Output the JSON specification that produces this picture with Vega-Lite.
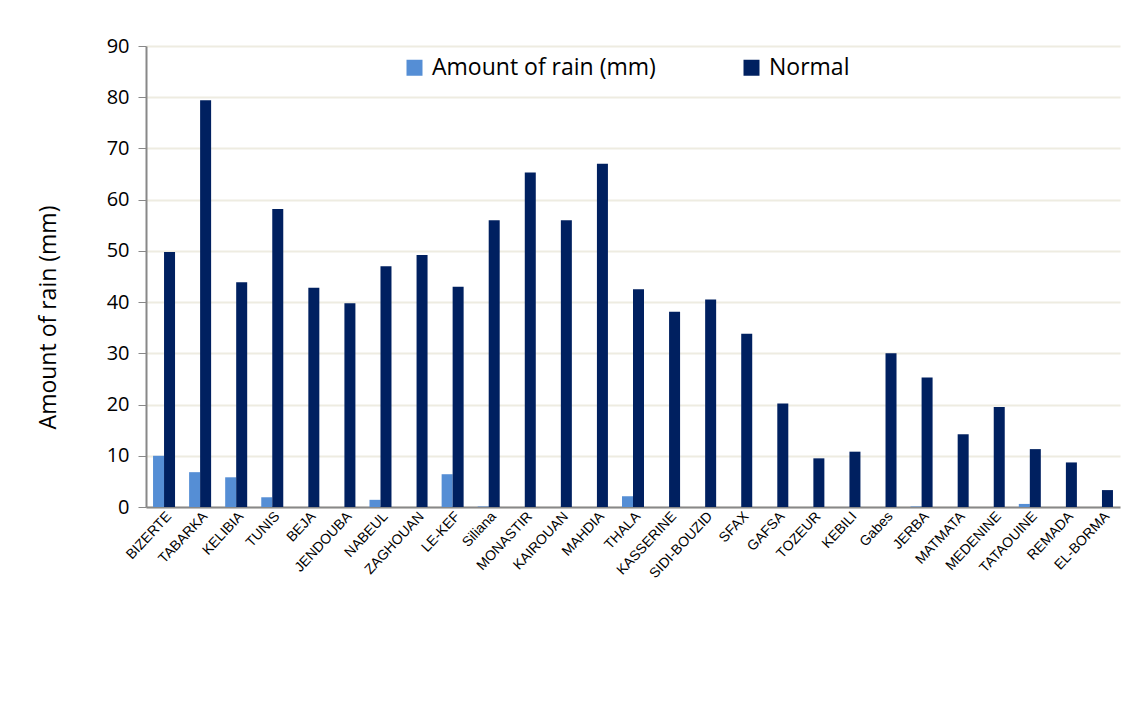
{
  "$schema": "https://vega.github.io/schema/vega-lite/v6.json",
  "width": 974,
  "height": 461,
  "autosize": {"type": "none"},
  "padding": {"left": 146, "top": 46, "right": 27, "bottom": 211},
  "background": "white",
  "config": {"view": {"stroke": null}},
  "data": {"values": [
    {"station": "BIZERTE", "series": "Amount of rain (mm)", "value": 10.0},
    {"station": "BIZERTE", "series": "Normal", "value": 49.8},
    {"station": "TABARKA", "series": "Amount of rain (mm)", "value": 6.8},
    {"station": "TABARKA", "series": "Normal", "value": 79.4},
    {"station": "KELIBIA", "series": "Amount of rain (mm)", "value": 5.8},
    {"station": "KELIBIA", "series": "Normal", "value": 43.9},
    {"station": "TUNIS", "series": "Amount of rain (mm)", "value": 1.9},
    {"station": "TUNIS", "series": "Normal", "value": 58.2},
    {"station": "BEJA", "series": "Amount of rain (mm)", "value": 0},
    {"station": "BEJA", "series": "Normal", "value": 42.8},
    {"station": "JENDOUBA", "series": "Amount of rain (mm)", "value": 0},
    {"station": "JENDOUBA", "series": "Normal", "value": 39.8},
    {"station": "NABEUL", "series": "Amount of rain (mm)", "value": 1.4},
    {"station": "NABEUL", "series": "Normal", "value": 47.0},
    {"station": "ZAGHOUAN", "series": "Amount of rain (mm)", "value": 0},
    {"station": "ZAGHOUAN", "series": "Normal", "value": 49.2},
    {"station": "LE-KEF", "series": "Amount of rain (mm)", "value": 6.4},
    {"station": "LE-KEF", "series": "Normal", "value": 43.0},
    {"station": "Siliana", "series": "Amount of rain (mm)", "value": 0.1},
    {"station": "Siliana", "series": "Normal", "value": 56.0},
    {"station": "MONASTIR", "series": "Amount of rain (mm)", "value": 0},
    {"station": "MONASTIR", "series": "Normal", "value": 65.3},
    {"station": "KAIROUAN", "series": "Amount of rain (mm)", "value": 0},
    {"station": "KAIROUAN", "series": "Normal", "value": 56.0},
    {"station": "MAHDIA", "series": "Amount of rain (mm)", "value": 0},
    {"station": "MAHDIA", "series": "Normal", "value": 67.0},
    {"station": "THALA", "series": "Amount of rain (mm)", "value": 2.1},
    {"station": "THALA", "series": "Normal", "value": 42.5},
    {"station": "KASSERINE", "series": "Amount of rain (mm)", "value": 0},
    {"station": "KASSERINE", "series": "Normal", "value": 38.1},
    {"station": "SIDI-BOUZID", "series": "Amount of rain (mm)", "value": 0},
    {"station": "SIDI-BOUZID", "series": "Normal", "value": 40.5},
    {"station": "SFAX", "series": "Amount of rain (mm)", "value": 0},
    {"station": "SFAX", "series": "Normal", "value": 33.8},
    {"station": "GAFSA", "series": "Amount of rain (mm)", "value": 0},
    {"station": "GAFSA", "series": "Normal", "value": 20.2},
    {"station": "TOZEUR", "series": "Amount of rain (mm)", "value": 0},
    {"station": "TOZEUR", "series": "Normal", "value": 9.5},
    {"station": "KEBILI", "series": "Amount of rain (mm)", "value": 0},
    {"station": "KEBILI", "series": "Normal", "value": 10.8},
    {"station": "Gabes", "series": "Amount of rain (mm)", "value": 0},
    {"station": "Gabes", "series": "Normal", "value": 30.0},
    {"station": "JERBA", "series": "Amount of rain (mm)", "value": 0.1},
    {"station": "JERBA", "series": "Normal", "value": 25.3},
    {"station": "MATMATA", "series": "Amount of rain (mm)", "value": 0},
    {"station": "MATMATA", "series": "Normal", "value": 14.2},
    {"station": "MEDENINE", "series": "Amount of rain (mm)", "value": 0},
    {"station": "MEDENINE", "series": "Normal", "value": 19.5},
    {"station": "TATAOUINE", "series": "Amount of rain (mm)", "value": 0.6},
    {"station": "TATAOUINE", "series": "Normal", "value": 11.3},
    {"station": "REMADA", "series": "Amount of rain (mm)", "value": 0},
    {"station": "REMADA", "series": "Normal", "value": 8.7},
    {"station": "EL-BORMA", "series": "Amount of rain (mm)", "value": 0},
    {"station": "EL-BORMA", "series": "Normal", "value": 3.3}
  ]},
  "mark": {"type": "bar"},
  "encoding": {
    "x": {
      "field": "station", "type": "nominal", "sort": null,
      "scale": {"paddingInner": 0.39, "paddingOuter": 0.195},
      "axis": {
        "title": null, "labelAngle": -47, "labelAlign": "right", "labelBaseline": "top",
        "labelFont": "Liberation Sans", "labelFontSize": 14, "labelColor": "black",
        "ticks": false, "labelPadding": 2, "labelDx": -9, "domainColor": "#888888", "domainWidth": 2,
        "grid": false
      }
    },
    "xOffset": {"field": "series", "type": "nominal", "scale": {"padding": 0}},
    "y": {
      "field": "value", "type": "quantitative",
      "scale": {"domain": [0, 90], "nice": false},
      "axis": {
        "title": "Amount of rain (mm)", "titleFont": "Open Sans", "titleFontSize": 23,
        "titleFontWeight": "normal", "titleColor": "black", "titlePadding": 46, "titleY": 271,
        "values": [0, 10, 20, 30, 40, 50, 60, 70, 80, 90],
        "labelFont": "Open Sans", "labelFontSize": 20, "labelColor": "black", "labelPadding": 9,
        "tickColor": "#888888", "tickSize": 8, "domainColor": "#888888", "domainWidth": 2,
        "gridColor": "#EEECE1", "gridWidth": 2
      }
    },
    "color": {
      "field": "series", "type": "nominal",
      "scale": {"domain": ["Amount of rain (mm)", "Normal"], "range": ["#558ED5", "#002060"]},
      "legend": {
        "title": null, "orient": "none", "legendX": 257, "legendY": 10, "direction": "horizontal",
        "symbolType": "square", "symbolSize": 256, "symbolStrokeWidth": 0,
        "labelFont": "Open Sans", "labelFontSize": 23, "labelColor": "black", "labelLimit": 500,
        "columnPadding": 84, "labelOffset": 6
      }
    }
  }
}
